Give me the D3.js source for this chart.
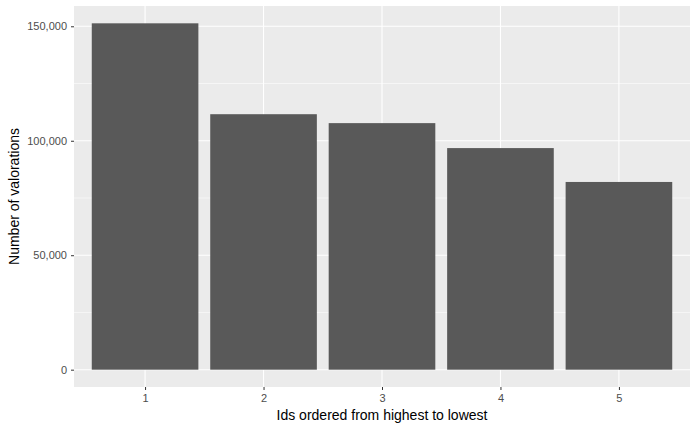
<!DOCTYPE html>
<html>
<head>
<meta charset="utf-8">
<script src="https://cdn.jsdelivr.net/npm/d3@7"></script>
<style>
body { margin: 0; background: #fff; }
text { font-family: Arial, "Liberation Sans", sans-serif; }
</style>
</head>
<body>
<div id="chart"></div>
<script>
// data
var ids = ["1", "2", "3", "4", "5"];
var counts = [151300, 111600, 107700, 96800, 82000];
var yTicks = [0, 50000, 100000, 150000];
var yMinor = [25000, 75000, 125000];

var W = 700, H = 432;
var margin = {top: 6, right: 10, bottom: 45, left: 74};
var pw = W - margin.left - margin.right,
    ph = H - margin.top - margin.bottom;

var svg = d3.select("#chart").append("svg")
    .attr("width", W).attr("height", H);

var g = svg.append("g")
    .attr("transform", "translate(" + margin.left + "," + margin.top + ")");

// discrete x like ggplot: positions 1..n with 0.6 expansion
var x = d3.scaleLinear().domain([0.4, ids.length + 0.6]).range([0, pw]);
var ymax = d3.max(counts);
var y = d3.scaleLinear().domain([-0.05 * ymax, 1.05 * ymax]).range([ph, 0]);

g.append("rect").attr("width", pw).attr("height", ph).attr("fill", "#EBEBEB");

// minor grid
g.selectAll(".minor").data(yMinor).enter().append("line")
    .attr("x1", 0).attr("x2", pw)
    .attr("y1", function(d){ return y(d); }).attr("y2", function(d){ return y(d); })
    .attr("stroke", "#fff").attr("stroke-width", 0.55);

// major grid
g.selectAll(".hmaj").data(yTicks).enter().append("line")
    .attr("x1", 0).attr("x2", pw)
    .attr("y1", function(d){ return y(d); }).attr("y2", function(d){ return y(d); })
    .attr("stroke", "#fff").attr("stroke-width", 1.1);
g.selectAll(".vmaj").data(ids).enter().append("line")
    .attr("y1", 0).attr("y2", ph)
    .attr("x1", function(d, i){ return x(i + 1); }).attr("x2", function(d, i){ return x(i + 1); })
    .attr("stroke", "#fff").attr("stroke-width", 1.1);

// bars
var bw = x(1.45) - x(0.55);
g.selectAll(".bar").data(counts).enter().append("rect")
    .attr("x", function(d, i){ return x(i + 1) - bw / 2; })
    .attr("width", bw)
    .attr("y", function(d){ return y(d); })
    .attr("height", function(d){ return y(0) - y(d); })
    .attr("fill", "#595959");

// axes
var yAxis = g.append("g").call(d3.axisLeft(y).tickValues(yTicks).tickSize(3).tickPadding(4));
var xAxis = g.append("g").attr("transform", "translate(0," + ph + ")")
    .call(d3.axisBottom(x).tickValues(d3.range(1, ids.length + 1))
        .tickFormat(function(d){ return ids[d - 1]; }).tickSize(3).tickPadding(4));
[xAxis, yAxis].forEach(function(a){
    a.select(".domain").remove();
    a.selectAll("line").attr("stroke", "#333");
    a.selectAll("text").attr("fill", "#4D4D4D").style("font-size", "11px");
});

svg.append("text").attr("x", margin.left + pw / 2).attr("y", H - 12)
    .attr("text-anchor", "middle").style("font-size", "14px").attr("fill", "#000")
    .text("Ids ordered from highest to lowest");
svg.append("text")
    .attr("transform", "translate(19," + (margin.top + ph / 2) + ") rotate(-90)")
    .attr("text-anchor", "middle").style("font-size", "14px").attr("fill", "#000")
    .text("Number of valorations");
</script>
</body>
</html>
